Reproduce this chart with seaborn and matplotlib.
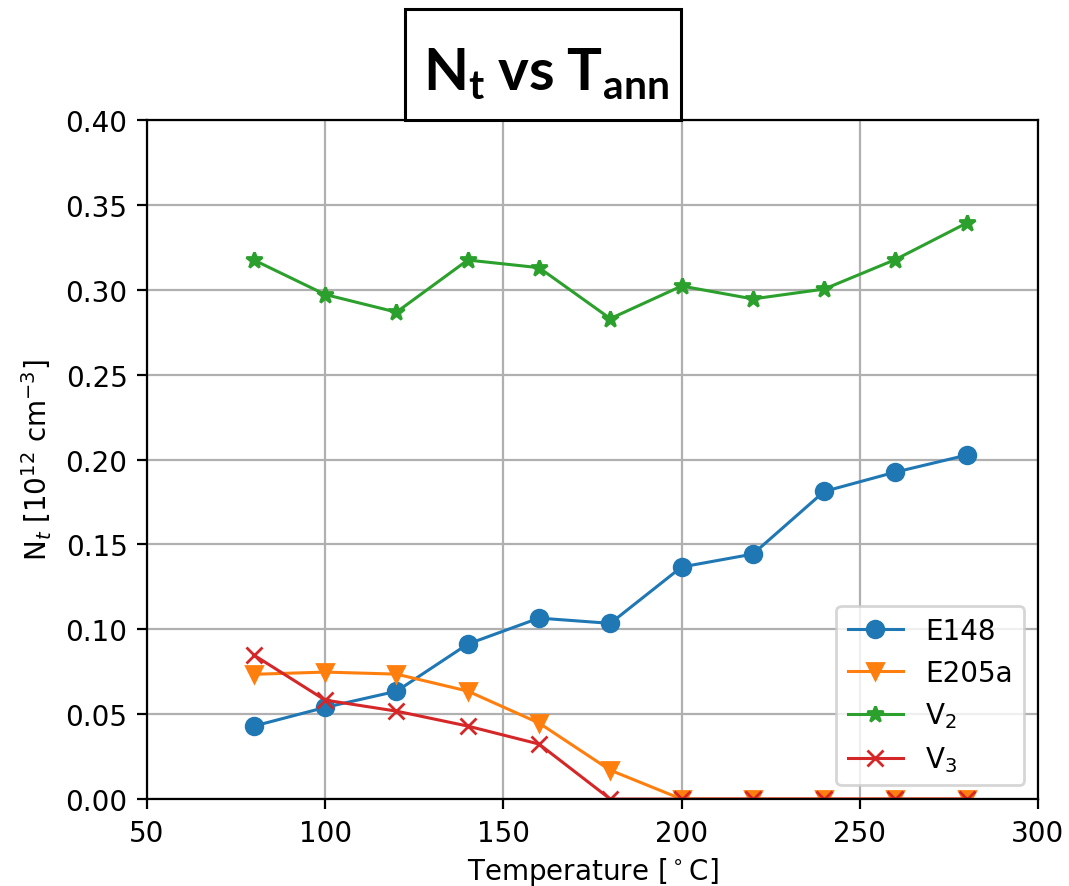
import matplotlib
matplotlib.use("Agg")
import matplotlib.pyplot as plt
from matplotlib.patches import Rectangle
import seaborn as sns
import pandas as pd

temperature = [80, 100, 120, 140, 160, 180, 200, 220, 240, 260, 280]
e148 = [0.043, 0.054, 0.0635, 0.0913, 0.1066, 0.1035, 0.1367, 0.1443, 0.1812, 0.1926, 0.2026]
e205a = [0.0735, 0.0748, 0.0736, 0.0636, 0.0448, 0.017, 0.0, 0.0, 0.0, 0.0, 0.0]
v2 = [0.3175, 0.2972, 0.2868, 0.3175, 0.3130, 0.2830, 0.3022, 0.2946, 0.3004, 0.3178, 0.3393]
v3 = [0.0848, 0.0583, 0.0518, 0.0430, 0.0324, 0.0, 0.0, 0.0, 0.0, 0.0, 0.0]

series_labels = ["E148", "E205a", r"V$_2$", r"V$_3$"]
series_values = [e148, e205a, v2, v3]
x_ticks = [50, 100, 150, 200, 250, 300]
y_ticks = [0.00, 0.05, 0.10, 0.15, 0.20, 0.25, 0.30, 0.35, 0.40]
title_text = r"$\mathbf{N_t\:vs\:T_{ann}}$"

plt.rcParams["mathtext.fontset"] = "custom"
plt.rcParams["mathtext.rm"] = "DejaVu Sans"
plt.rcParams["mathtext.it"] = "DejaVu Sans:italic"
plt.rcParams["mathtext.bf"] = "Lato:bold"
plt.rcParams["mathtext.sf"] = "DejaVu Sans"
plt.rcParams["mathtext.fallback"] = "stix"

colors = ["#1f77b4", "#ff7f0e", "#2ca02c", "#d62728"]
markers = ["o", "v", "*", "x"]

fig = plt.figure(figsize=(10.69 / 2, 8.87 / 2), dpi=200)
ax = fig.add_axes([0.1375, 0.098, 0.971 - 0.1375, 0.8636 - 0.098])

for lab, vals, col, mk in zip(series_labels, series_values, colors, markers):
    df = pd.DataFrame({"T": temperature, "N": vals})
    sns.lineplot(data=df, x="T", y="N", ax=ax, color=col, marker=mk,
                 markersize=6, markeredgecolor=col, markeredgewidth=1.0,
                 linewidth=1.1, label=lab)

ax.set_xlim(50, 300)
ax.set_ylim(0, 0.40)
ax.set_xticks(x_ticks)
ax.set_yticks(y_ticks)
ax.set_yticklabels([f"{v:.2f}" for v in y_ticks])
ax.grid(True, color="#b0b0b0", linewidth=0.8)
ax.set_axisbelow(True)
ax.set_xlabel(r"Temperature [$^\circ$C]", labelpad=3)
ax.set_ylabel(r"N$_t$ [10$^{12}$ cm$^{-3}$]")
ax.legend(loc="lower right")

# boxed title
fig.add_artist(Rectangle((0.3789, 0.8636), 0.2581, 0.1251, transform=fig.transFigure,
                         facecolor="white", edgecolor="black", linewidth=1.1, zorder=5))
fig.text(0.3957, 0.8985, title_text, fontsize=21, ha="left", va="baseline", zorder=6)

fig.savefig("out.png", dpi=200)
